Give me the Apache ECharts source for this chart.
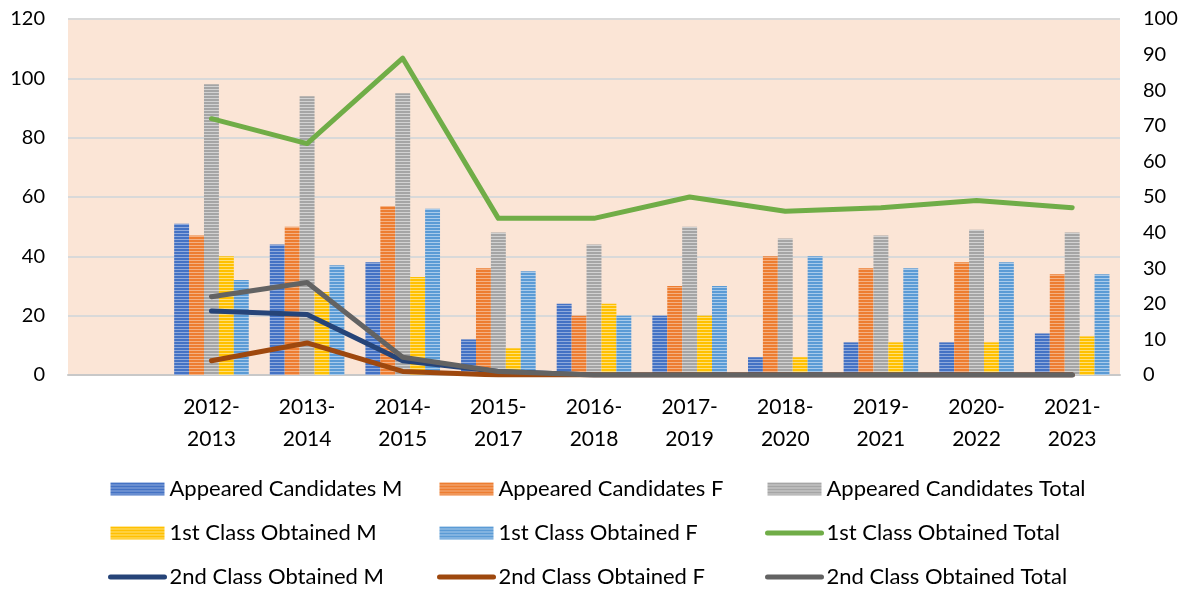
<!DOCTYPE html>
<html>
<head>
<meta charset="utf-8">
<script src="https://cdn.jsdelivr.net/npm/echarts@6/dist/echarts.min.js"></script>
<style>
html,body{margin:0;padding:0;background:#fff;}
#chart{width:1191px;height:594px;}
</style>
</head>
<body>
<div id="chart"></div>
<script>
const categories = ['', '2012-2013', '2013-2014', '2014-2015', '2015-2017', '2016-2018', '2017-2019', '2018-2020', '2019-2021', '2020-2022', '2021-2023'];
const appearedM = [null, 51, 44, 38, 12, 24, 20, 6, 11, 11, 14];
const appearedF = [null, 47, 50, 57, 36, 20, 30, 40, 36, 38, 34];
const appearedTotal = [null, 98, 94, 95, 48, 44, 50, 46, 47, 49, 48];
const firstM = [null, 40, 28, 33, 9, 24, 20, 6, 11, 11, 13];
const firstF = [null, 32, 37, 56, 35, 20, 30, 40, 36, 38, 34];
const firstTotal = [null, 72, 65, 89, 44, 44, 50, 46, 47, 49, 47];
const secondM = [null, 18, 17, 4, 1, 0, 0, 0, 0, 0, 0];
const secondF = [null, 4, 9, 1, 0, 0, 0, 0, 0, 0, 0];
const secondTotal = [null, 22, 26, 5, 1, 0, 0, 0, 0, 0, 0];
const leftTicks = {min: 0, max: 120, interval: 20};
const rightTicks = {min: 0, max: 100, interval: 10};

function stripe(c1, c2) {
  const cv = document.createElement('canvas');
  cv.width = 4; cv.height = 3;
  const ctx = cv.getContext('2d');
  ctx.fillStyle = c2; ctx.fillRect(0, 0, 4, 3);
  ctx.fillStyle = c1; ctx.fillRect(0, 0, 4, 2);
  return {image: cv, repeat: 'repeat'};
}

const FONT = 'Lato';
const chart = echarts.init(document.getElementById('chart'));

function barSeries(name, data, c1, c2) {
  return {
    name: name, type: 'bar', yAxisIndex: 0, data: data,
    barGap: '0%', barCategoryGap: '22%',
    itemStyle: {color: stripe(c1, c2)},
    emphasis: {disabled: true}
  };
}
function lineSeries(name, data, color) {
  return {
    name: name, type: 'line', yAxisIndex: 1, data: data,
    symbol: 'none', showSymbol: false,
    lineStyle: {color: color, width: 5, cap: 'round', join: 'round'},
    itemStyle: {color: color},
    emphasis: {disabled: true}
  };
}
function lineLegend(name) {
  return {name: name, itemStyle: {opacity: 0}, lineStyle: {width: 5, cap: 'round'}};
}

const legendCommon = {
  orient: 'vertical', top: 478, itemWidth: 54, itemHeight: 13, itemGap: 22, padding: 0,
  textStyle: {fontFamily: FONT, fontSize: 22, color: '#000', lineHeight: 22},
  selectedMode: false
};

chart.setOption({
  animation: false,
  textStyle: {fontFamily: FONT},
  grid: {left: 68, right: 71, top: 19, bottom: 219, show: true, backgroundColor: '#FBE5D6', borderWidth: 0},
  legend: [
    Object.assign({left: 108, data: [
      {name: 'Appeared Candidates M', icon: 'rect'},
      {name: '1st Class Obtained M', icon: 'rect'},
      lineLegend('2nd Class Obtained M')]}, legendCommon),
    Object.assign({left: 437, data: [
      {name: 'Appeared Candidates F', icon: 'rect'},
      {name: '1st Class Obtained F', icon: 'rect'},
      lineLegend('2nd Class Obtained F')]}, legendCommon),
    Object.assign({left: 765, data: [
      {name: 'Appeared Candidates Total', icon: 'rect'},
      lineLegend('1st Class Obtained Total'),
      lineLegend('2nd Class Obtained Total')]}, legendCommon)
  ],
  xAxis: {
    type: 'category', data: categories,
    axisLine: {show: true, lineStyle: {color: '#C8C8C8', width: 2}},
    axisTick: {show: false},
    axisLabel: {
      fontFamily: FONT, fontSize: 21, color: '#000', margin: 16, lineHeight: 32,
      interval: 0,
      formatter: v => v ? v.replace('-', '-\n') : ''
    }
  },
  yAxis: [
    {
      type: 'value', min: leftTicks.min, max: leftTicks.max, interval: leftTicks.interval,
      axisLine: {show: false}, axisTick: {show: false},
      splitLine: {lineStyle: {color: '#D9D9D9', width: 2}},
      axisLabel: {fontFamily: FONT, fontSize: 20, color: '#000', margin: 23}
    },
    {
      type: 'value', min: rightTicks.min, max: rightTicks.max, interval: rightTicks.interval,
      axisLine: {show: false}, axisTick: {show: false},
      splitLine: {show: false},
      axisLabel: {fontFamily: FONT, fontSize: 20, color: '#000', margin: 23}
    }
  ],
  series: [
    barSeries('Appeared Candidates M', appearedM, '#4472C4', '#8FAADC'),
    barSeries('Appeared Candidates F', appearedF, '#ED7D31', '#F4B183'),
    barSeries('Appeared Candidates Total', appearedTotal, '#A5A5A5', '#D2D2D2'),
    barSeries('1st Class Obtained M', firstM, '#FFC000', '#FFE07A'),
    barSeries('1st Class Obtained F', firstF, '#5B9BD5', '#A9CBEB'),
    lineSeries('2nd Class Obtained M', secondM, '#264478'),
    lineSeries('2nd Class Obtained F', secondF, '#9E480E'),
    lineSeries('2nd Class Obtained Total', secondTotal, '#636363'),
    lineSeries('1st Class Obtained Total', firstTotal, '#70AD47')
  ]
});
</script>
</body>
</html>
